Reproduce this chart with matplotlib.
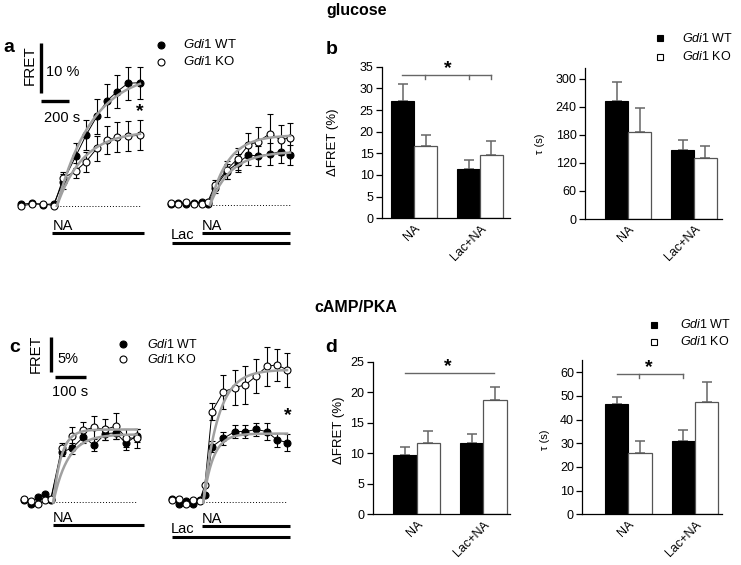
import numpy as np
import matplotlib
matplotlib.use('Agg')
import matplotlib.pyplot as plt
from matplotlib.lines import Line2D
from matplotlib.transforms import ScaledTranslation

plt.rcParams['font.family'] = ['Liberation Sans', 'DejaVu Sans']
plt.rcParams['mathtext.fontset'] = 'custom'
plt.rcParams['mathtext.it'] = 'Liberation Sans:italic'
plt.rcParams['mathtext.rm'] = 'Liberation Sans'

W, H = 741, 565

# ---- time courses: time (s) from NA onset, FRET change (%) ----
# panel a, glucose, NA
a1_t = [-255, -178, -100, -22, 43, 135, 206, 284, 355, 426, 504, 589]
a1_wt = [0.3, 0.5, 0.2, 0.4, 4.8, 10.0, 14.1, 17.9, 21.0, 22.8, 24.5, 24.6]
a1_wt_err = [0, 0, 0, 0, 1.5, 2.5, 3.0, 3.5, 3.3, 3.3, 3.3, 3.2]
a1_ko = [0.0, 0.3, 0.4, 0.0, 5.5, 7.0, 8.8, 11.5, 13.1, 13.7, 13.9, 14.1]
a1_ko_err = [0, 0, 0, 0, 1.2, 1.5, 2.0, 2.5, 2.8, 3.0, 3.0, 3.0]
# panel a, glucose, Lac + NA
a2_t = [-280, -225, -170, -115, -60, -15, 36, 118, 197, 273, 344, 426, 502, 568]
a2_wt = [0.3, 0.5, 0.2, 0.4, 0.6, 0.2, 3.5, 6.7, 8.4, 10.0, 9.8, 10.2, 10.7, 10.0]
a2_wt_err = [0, 0, 0, 0, 0, 0, 1.0, 1.5, 1.8, 2.0, 2.0, 2.2, 2.2, 2.0]
a2_ko = [0.5, 0.2, 0.6, 0.3, 0.2, 0.7, 4.0, 7.0, 9.3, 12.0, 12.7, 14.3, 13.0, 13.5]
a2_ko_err = [0, 0, 0, 0, 0, 0, 1.0, 1.8, 2.2, 2.5, 3.0, 4.0, 3.0, 3.0]
# panel c, cAMP/PKA, NA
c1_t = [-95, -72, -50, -28, -8, 27, 61, 97, 132, 167, 202, 234, 269]
c1_wt = [0.3, -0.2, 0.8, 1.2, 0.4, 7.3, 7.9, 9.5, 8.3, 10.0, 10.1, 8.6, 9.7]
c1_wt_err = [0, 0, 0, 0, 0, 0.6, 0.8, 0.8, 0.9, 0.9, 0.9, 1.0, 0.9]
c1_ko = [0.5, 0.2, -0.3, 0.3, 0.5, 7.9, 9.6, 10.5, 10.9, 10.6, 11.1, 9.4, 9.3]
c1_ko_err = [0, 0, 0, 0, 0, 0.8, 1.3, 1.2, 1.6, 1.5, 1.9, 1.3, 1.4]
# panel c, cAMP/PKA, Lac + NA
c2_t = [-100, -78, -56, -34, -12, 5, 28, 65, 102, 136, 171, 205, 237, 270]
c2_wt = [0.5, -0.3, 0.2, -0.2, 0.4, 1.0, 8.1, 9.3, 10.3, 10.3, 10.6, 10.3, 9.1, 8.7]
c2_wt_err = [0, 0, 0, 0, 0, 0, 0.8, 0.9, 1.0, 1.0, 0.9, 1.2, 1.0, 1.2]
c2_ko = [0.3, 0.5, -0.2, 0.4, 0.2, 2.5, 13.2, 16.1, 16.7, 17.1, 18.4, 19.8, 20.0, 19.3]
c2_ko_err = [0, 0, 0, 0, 0, 0, 1.2, 2.5, 2.5, 2.8, 2.5, 2.8, 2.3, 2.5]

# mono-exponential fits (amplitude %, tau s)
a1_fit = [(27.0, 253), (15.0, 187)]
a2_fit = [(10.7, 148), (14.0, 130)]
c1_fit = [(9.9, 47), (10.6, 26)]
c2_fit = [(10.0, 31), (19.3, 47)]

# ---- summary bars ----
groups = ['NA', 'Lac+NA']
b_fret_wt, b_fret_wt_err = [27.0, 11.4], [4.0, 2.1]
b_fret_ko, b_fret_ko_err = [16.6, 14.5], [2.6, 3.4]
b_tau_wt, b_tau_wt_err = [253, 148], [40, 22]
b_tau_ko, b_tau_ko_err = [187, 130], [51, 27]
d_fret_wt, d_fret_wt_err = [9.7, 11.6], [1.3, 1.5]
d_fret_ko, d_fret_ko_err = [11.7, 18.8], [2.0, 2.1]
d_tau_wt, d_tau_wt_err = [46.8, 30.8], [2.9, 4.7]
d_tau_ko, d_tau_ko_err = [26.0, 47.3], [5.0, 8.4]

fig = plt.figure(figsize=(W / 100, H / 100), dpi=100)


def fx(x):
    return x / W


def fy(y):
    return 1 - y / H


def ptext(x, y, s, **kw):
    fig.text(fx(x), fy(y), s, **kw)


def pline(x0, y0, x1, y1, **kw):
    fig.add_artist(Line2D([fx(x0), fx(x1)], [fy(y0), fy(y1)],
                          transform=fig.transFigure, **kw))


def trace_ax(box, onset, base, px_s, px_pct):
    x0, y0, x1, y1 = box
    ax = fig.add_axes([fx(x0), fy(y1), (x1 - x0) / W, (y1 - y0) / H])
    ax.set_xlim((x0 - onset) / px_s, (x1 - onset) / px_s)
    ax.set_ylim((base - y1) / px_pct, (base - y0) / px_pct)
    ax.axis('off')
    return ax


def draw_trace(ax, t, wt, wt_err, ko, ko_err, fits):
    t = np.array(t)
    t_end = t[-1]
    ax.plot([0, t_end], [0, 0], ls=(0, (1, 2)), color='k', lw=0.7)
    for y, e, fc in [(wt, wt_err, 'black'), (ko, ko_err, 'white')]:
        y = np.array(y)
        e = np.array(e)
        m = e > 0
        ax.errorbar(t[m], y[m], yerr=e[m], fmt='none', ecolor='k',
                    elinewidth=0.8, capsize=2.5, capthick=0.8)
        ax.plot(t, y, '-', color='k', lw=0.7)
        ax.plot(t, y, 'o', ms=5, mfc=fc, mec='k', mew=0.8, zorder=4)
    tt = np.linspace(0, t_end, 200)
    for amp, tau in fits:
        ax.plot(tt, amp * (1 - np.exp(-tt / tau)), color='#a0a0a0', lw=1.8, zorder=5)


def bar_ax(box, center0, spacing, ylim, yticks, wt, wt_err, ko, ko_err):
    x0, y0, x1, y1 = box
    ax = fig.add_axes([fx(x0), fy(y0), (x1 - x0) / W, (y0 - y1) / H])
    ax.set_xlim((x0 - center0) / spacing, (x1 - center0) / spacing)
    ax.set_ylim(*ylim)
    pos = np.arange(len(groups))
    w = 0.35
    ax.bar(pos - w / 2, wt, w, color='black', edgecolor='black', lw=0.8, zorder=2)
    ax.bar(pos + w / 2, ko, w, color='white', edgecolor='#555555', lw=0.9, zorder=2)
    ax.errorbar(pos - w / 2, wt, yerr=[np.zeros(len(wt)), wt_err], fmt='none',
                ecolor='#666666', elinewidth=1.1, capsize=3.5, capthick=1.1, zorder=1)
    ax.errorbar(pos + w / 2, ko, yerr=[np.zeros(len(ko)), ko_err], fmt='none',
                ecolor='#666666', elinewidth=1.1, capsize=3.5, capthick=1.1, zorder=1)
    ax.spines[['top', 'right']].set_visible(False)
    ax.spines[['left', 'bottom']].set_linewidth(0.9)
    ax.set_yticks(yticks)
    ax.set_xticks(pos)
    ax.set_xticklabels(groups, rotation=45, ha='right', va='top',
                       rotation_mode='anchor', fontsize=9)
    shift = ScaledTranslation(0.06, 0, fig.dpi_scale_trans)
    for lab in ax.get_xticklabels():
        lab.set_transform(lab.get_transform() + shift)
    ax.tick_params(axis='x', length=0, pad=3)
    ax.tick_params(axis='y', direction='out', length=4, width=0.9, labelsize=9, pad=2)
    return ax


def bracket(ax, xa, xb, y, ticks, tick_len, star_x, star_y):
    c = '#666666'
    ax.plot([xa, xb], [y, y], color=c, lw=1, clip_on=False)
    for xt in ticks:
        ax.plot([xt, xt], [y, y - tick_len], color=c, lw=1, clip_on=False)
    ax.text(star_x, star_y, '*', ha='center', va='center', fontsize=14,
            fontweight='bold', clip_on=False)


def gdi_label(x, y, g, size):
    ptext(x, y, r'$\mathit{Gdi1}$ ' + g, ha='left', va='center', fontsize=size)


# ---- titles and panel letters ----
ptext(357, 10, 'glucose', ha='center', va='center', fontsize=11.5, fontweight='bold')
ptext(356, 308, 'cAMP/PKA', ha='center', va='center', fontsize=11.5, fontweight='bold')
for lab, x, y in [('a', 9, 48), ('b', 332, 49), ('c', 15, 348), ('d', 331, 347)]:
    ptext(x, y, lab, ha='center', va='center', fontsize=14, fontweight='bold')

# ---- panel a traces ----
ax = trace_ax((15, 30, 150, 250), 57, 205.7, 1 / 7.1, 5.0)
draw_trace(ax, a1_t, a1_wt, a1_wt_err, a1_ko, a1_ko_err, a1_fit)
ax = trace_ax((160, 30, 295, 250), 210, 205.0, 1 / 7.1, 5.0)
draw_trace(ax, a2_t, a2_wt, a2_wt_err, a2_ko, a2_ko_err, a2_fit)

# scale bars a
pline(41, 42.7, 41, 92.7, color='k', lw=2.4, solid_capstyle='butt')
pline(41, 100.7, 69.3, 100.7, color='k', lw=2.4, solid_capstyle='butt')
ptext(30, 65, 'FRET', rotation=90, ha='center', va='center', fontsize=11)
ptext(46, 72, '10 %', ha='left', va='center', fontsize=10.5)
ptext(62, 117.5, '200 s', ha='center', va='center', fontsize=10.5)
ptext(140, 112, '*', ha='center', va='center', fontsize=14, fontweight='bold')

# stimulus bars a
ptext(53, 226, 'NA', ha='left', va='center', fontsize=10.5)
pline(52, 232.5, 144, 232.5, color='k', lw=2.2, solid_capstyle='butt')
ptext(202, 226, 'NA', ha='left', va='center', fontsize=10.5)
pline(202, 232.5, 290, 232.5, color='k', lw=2.2, solid_capstyle='butt')
ptext(171, 235, 'Lac', ha='left', va='center', fontsize=10.5)
pline(172, 243, 290, 243, color='k', lw=2.2, solid_capstyle='butt')

# legend a
for y, fc, g in [(45, 'black', 'WT'), (61.7, 'white', 'KO')]:
    fig.add_artist(Line2D([fx(160.7)], [fy(y)], marker='o', ms=5, mfc=fc, mec='k',
                          mew=0.8, transform=fig.transFigure))
    gdi_label(183, y, g, 9.5)

# ---- panel c traces ----
ax = trace_ax((15, 330, 150, 545), 53.3, 502.3, 0.31, 6.87)
draw_trace(ax, c1_t, c1_wt, c1_wt_err, c1_ko, c1_ko_err, c1_fit)
ax = trace_ax((160, 330, 295, 545), 203.3, 502.3, 0.31, 6.87)
draw_trace(ax, c2_t, c2_wt, c2_wt_err, c2_ko, c2_ko_err, c2_fit)

pline(50.7, 337.3, 50.7, 371.7, color='k', lw=2.4, solid_capstyle='butt')
pline(55, 377.3, 86, 377.3, color='k', lw=2.4, solid_capstyle='butt')
ptext(36, 353.5, 'FRET', rotation=90, ha='center', va='center', fontsize=10.5)
ptext(57, 359, '5%', ha='left', va='center', fontsize=10.5)
ptext(70, 391.7, '100 s', ha='center', va='center', fontsize=10.5)
ptext(288, 416, '*', ha='center', va='center', fontsize=14, fontweight='bold')

ptext(53, 518, 'NA', ha='left', va='center', fontsize=10.5)
pline(52.7, 525, 144, 525, color='k', lw=2.2, solid_capstyle='butt')
ptext(202, 519, 'NA', ha='left', va='center', fontsize=10.5)
pline(201.7, 526, 290, 526, color='k', lw=2.2, solid_capstyle='butt')
ptext(171, 529, 'Lac', ha='left', va='center', fontsize=10.5)
pline(172, 536.5, 290, 536.5, color='k', lw=2.2, solid_capstyle='butt')

for y, fc, g in [(344, 'black', 'WT'), (359.3, 'white', 'KO')]:
    fig.add_artist(Line2D([fx(123.3)], [fy(y)], marker='o', ms=5, mfc=fc, mec='k',
                          mew=0.8, transform=fig.transFigure))
    gdi_label(146.7, y, g, 9)

# ---- panel b bars ----
ax = bar_ax((382, 218.3, 510, 66.7), 414.3, 65.7, (0, 35), range(0, 36, 5),
            b_fret_wt, b_fret_wt_err, b_fret_ko, b_fret_ko_err)
ax.set_ylabel('ΔFRET (%)', fontsize=9.5)
ax.yaxis.set_label_coords(-0.336, 0.503)
bracket(ax, -0.18, 1.16, 33.1, [0.17, 0.83, 1.16], 1.0, 0.51, 34.6)

ax = bar_ax((585, 219, 722, 68), 628.3, 65.7, (0, 323), range(0, 301, 60),
            b_tau_wt, b_tau_wt_err, b_tau_ko, b_tau_ko_err)
ax.set_ylabel('τ (s)', fontsize=8)
ax.yaxis.set_label_coords(-0.292, 0.497)

for y, fc, g in [(38.3, 'black', 'WT'), (56.7, 'white', 'KO')]:
    fig.add_artist(Line2D([fx(660)], [fy(y)], marker='s', ms=4.5, mfc=fc, mec='k',
                          mew=0.8, transform=fig.transFigure))
    gdi_label(682, y, g, 9)

# ---- panel d bars ----
ax = bar_ax((372.7, 514.3, 510, 361.7), 416.7, 66.6, (0, 25), range(0, 26, 5),
            d_fret_wt, d_fret_wt_err, d_fret_ko, d_fret_ko_err)
ax.set_ylabel('ΔFRET (%)', fontsize=9.5)
ax.yaxis.set_label_coords(-0.2, 0.55)
bracket(ax, -0.18, 1.16, 23.1, [], 0, 0.47, 24.2)

ax = bar_ax((582.3, 514.3, 722, 360), 628.3, 66.7, (0, 65.2), range(0, 61, 10),
            d_tau_wt, d_tau_wt_err, d_tau_ko, d_tau_ko_err)
ax.set_ylabel('τ (s)', fontsize=8)
ax.yaxis.set_label_coords(-0.231, 0.48)
bracket(ax, -0.17, 0.82, 59.3, [0.16, 0.82], 1.8, 0.3, 62.0)

for y, fc, g in [(325, 'black', 'WT'), (341.7, 'white', 'KO')]:
    fig.add_artist(Line2D([fx(654.3)], [fy(y)], marker='s', ms=4.5, mfc=fc, mec='k',
                          mew=0.8, transform=fig.transFigure))
    gdi_label(680, y, g, 9)

fig.savefig('out.png', dpi=100)
